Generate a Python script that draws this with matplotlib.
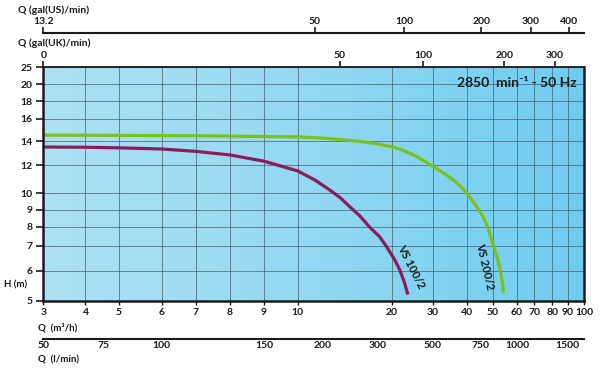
import numpy as np
import matplotlib.pyplot as plt
from matplotlib.colors import LinearSegmentedColormap
from matplotlib.ticker import FixedLocator, FixedFormatter, NullLocator

plt.rcParams['font.family'] = ['Lato', 'DejaVu Sans']
plt.rcParams['font.weight'] = 'bold'

# pump curves, Q in m3/h, H in m
q_vs100 = [3, 4, 5, 6, 7, 8, 9, 10, 11.4, 12.7, 13.7, 14.7, 15.8, 17, 18.3, 19.3, 20.6, 21.7, 22.7, 23.5]
h_vs100 = [13.47, 13.45, 13.4, 13.3, 13.1, 12.8, 12.3, 11.55, 10.87, 10.2, 9.72, 9.18, 8.65, 8.0,
           7.47, 6.95, 6.43, 6.03, 5.59, 5.19]
q_vs200 = [3, 5, 7, 10, 12, 14, 16, 18, 20, 22, 24, 26, 28, 30, 32, 34, 36, 38, 40, 42, 44, 46,
           48, 50, 52, 53, 54, 54.2]
h_vs200 = [14.5, 14.48, 14.45, 14.35, 14.25, 14.1, 13.95, 13.75, 13.5, 13.25, 12.95, 12.6, 12.25,
           11.9, 11.55, 11.2, 10.85, 10.45, 10.0, 9.55, 9.1, 8.6, 7.95, 7.15, 6.4, 6.0, 5.45, 5.25]

q_ticks = [3, 4, 5, 6, 7, 8, 9, 10, 20, 30, 40, 50, 60, 70, 80, 90, 100]
h_ticks = [5, 6, 7, 8, 9, 10, 12, 14, 16, 18, 20, 25]
lmin_ticks = [50, 75, 100, 150, 200, 300, 500, 750, 1000, 1500]
gal_uk_ticks = [11, 50, 100, 200, 300]
gal_uk_labels = ["0", "50", "100", "200", "300"]
gal_us_ticks = [13.2, 50, 100, 200, 300, 400]

# unit conversions to m3/h
M3H_PER_LMIN = 0.06
M3H_PER_GAL_UK = 0.272765
M3H_PER_GAL_US = 0.227125

# the printed grid is not a clean log grid: where each tick sits along its axis (0..1)
q_tick_frac = [0, 0.078, 0.140, 0.219, 0.282, 0.345, 0.408, 0.4705,
               0.644, 0.720, 0.783, 0.831, 0.876, 0.9075, 0.941, 0.970, 1]
h_tick_frac = [0, 0.1285, 0.2356, 0.3158, 0.3886, 0.4602, 0.5814, 0.6842,
               0.7798, 0.8543, 0.9284, 1]


def chart_scale(ticks, fracs):
    lt = np.log10(ticks)

    def fwd(v):
        v = np.clip(np.asarray(v, dtype=float), 1e-9, None)
        return np.interp(np.log10(v), lt, fracs)

    def inv(f):
        return 10 ** np.interp(np.asarray(f, dtype=float), fracs, lt)

    return fwd, inv


ink = "#1a1a1a"
fig = plt.figure(figsize=(6, 3.68), dpi=100)
rect = [0.0722, 0.1829, 0.9012, 0.6342]

# light blue background, a bit deeper towards the right
bg = fig.add_axes(rect, zorder=0)
cmap = LinearSegmentedColormap.from_list("bg", ["#ade1f4", "#93d8f2", "#6fccef"])
bg.imshow(np.linspace(0, 1, 256)[None, :], cmap=cmap, aspect="auto", extent=[0, 1, 0, 1])
bg.axis("off")

ax = fig.add_axes(rect, zorder=1)
ax.patch.set_alpha(0)
ax.set_xscale("function", functions=chart_scale(q_ticks, q_tick_frac))
ax.set_yscale("function", functions=chart_scale(h_ticks, h_tick_frac))
ax.set_xlim(3, 100)
ax.set_ylim(5, 25)

ax.xaxis.set_major_locator(FixedLocator(q_ticks))
ax.xaxis.set_major_formatter(FixedFormatter([str(v) for v in q_ticks]))
ax.yaxis.set_major_locator(FixedLocator(h_ticks))
ax.yaxis.set_major_formatter(FixedFormatter([str(v) for v in h_ticks]))
ax.xaxis.set_minor_locator(NullLocator())
ax.yaxis.set_minor_locator(NullLocator())
ax.grid(True, color="#3f5a6a", lw=0.6, alpha=0.8)
ax.tick_params(axis="x", direction="out", length=3, width=1, labelsize=7.5, pad=2, colors=ink)
ax.tick_params(axis="y", direction="out", length=5, width=1.2, labelsize=7.5, pad=3, colors=ink)
for side, lw in [("left", 1.8), ("bottom", 1.8), ("top", 1.3), ("right", 1.8)]:
    ax.spines[side].set_linewidth(lw)
    ax.spines[side].set_color(ink)

ax.plot(q_vs200, h_vs200, color="#78c21a", lw=2.3, solid_capstyle="butt")
ax.plot(q_vs100, h_vs100, color="#8a1c5c", lw=2.3, solid_capstyle="butt")
ax.text(24.2, 6.15, "VS 100/2", rotation=-63, ha="center", va="center",
        rotation_mode="anchor", fontsize=8, color=ink)
ax.text(46.8, 6.15, "VS 200/2", rotation=-77, ha="center", va="center",
        rotation_mode="anchor", fontsize=8, color=ink)
ax.text(0.987, 0.933, "2850  min⁻¹ - 50 Hz", transform=ax.transAxes,
        ha="right", va="center", fontsize=10, color=ink)


def flow_axis(side, offset, ticks_m3h, labels, tick_len):
    """Extra Q axis drawn as a bare line with its own unit."""
    a = fig.add_axes(rect, zorder=2)
    a.patch.set_visible(False)
    a.set_xscale("function", functions=chart_scale(q_ticks, q_tick_frac))
    a.set_xlim(3, 100)
    a.yaxis.set_visible(False)
    for s in a.spines.values():
        s.set_visible(False)
    a.xaxis.set_ticks_position(side)
    if offset is not None:
        a.spines[side].set_visible(True)
        a.spines[side].set_position(("axes", offset))
        a.spines[side].set_linewidth(1.5)
        a.spines[side].set_color(ink)
    a.xaxis.set_major_locator(FixedLocator(ticks_m3h))
    a.xaxis.set_major_formatter(FixedFormatter(labels))
    a.xaxis.set_minor_locator(NullLocator())
    a.tick_params(axis="x", direction="out", length=tick_len, width=1.2,
                  labelsize=7.5, pad=1, colors=ink)
    return a


# gal(UK)/min on the top spine, gal(US)/min on a line above it
flow_axis("top", None, np.array(gal_uk_ticks) * M3H_PER_GAL_UK, gal_uk_labels, 4)
flow_axis("top", 1.147, np.clip(np.array(gal_us_ticks) * M3H_PER_GAL_US, 3, 100),
          [f"{v:g}" for v in gal_us_ticks], 4)
# l/min on a line below the chart
flow_axis("bottom", -0.166, np.array(lmin_ticks) * M3H_PER_LMIN,
          [str(v) for v in lmin_ticks], 0)

fig.text(0.03, 0.972, "Q (gal(US)/min)", ha="left", va="center", fontsize=7.5, color=ink)
fig.text(0.03, 0.883, "Q (gal(UK)/min)", ha="left", va="center", fontsize=7.5, color=ink)
fig.text(0.007, 0.226, "H (m)", ha="left", va="center", fontsize=7, color=ink)
fig.text(0.063, 0.109, "Q  (m³/h)", ha="left", va="center", fontsize=7, color=ink)
fig.text(0.063, 0.022, "Q  (l/min)", ha="left", va="center", fontsize=7, color=ink)

fig.savefig("out.png", dpi=100)
